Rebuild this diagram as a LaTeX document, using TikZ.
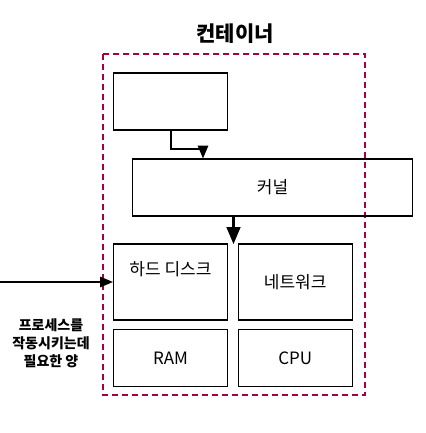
\documentclass[tikz,border=0pt]{standalone}
\usepackage{fontspec}
\setmainfont{Noto Sans CJK KR}
\usepackage{tikz}
\usetikzlibrary{arrows,positioning}
\definecolor{crimson}{RGB}{165,0,64}

\begin{document}
\begin{tikzpicture}[x=1pt,y=-1pt]

	\tikzstyle{box}=[rectangle,draw=black,line width=1.2pt,inner sep=0pt,minimum width=114pt,font=\fontsize{17}{20}\selectfont]
	\tikzstyle{container}=[draw=crimson,line width=2pt,dash pattern=on 6pt off 4pt]
	\tikzstyle{link}=[line width=2pt,-triangle 45]

	\useasboundingbox (0,0) rectangle (425,433);

	\draw [container] (103,54) rectangle (365,395);
	\node (title) at (235,34) [font=\bfseries\fontsize{21}{24}\selectfont] {컨테이너};

	\node [box] (app) [minimum height=57pt] at (170.5,101.5)		{};
	\node [box] (kernel) [minimum width=280pt,minimum height=57pt] at (272.5,187.5)	{커널};
	\node [box] (hdd) [minimum height=76pt] at (170.5,282)		{};
	\node [box] (net) [minimum height=76pt,right=9.5pt of hdd]	{네트워크};
	\node [box] (ram) [minimum height=57pt,below=8.5pt of hdd]	{RAM};
	\node [box] (cpu) [minimum height=57pt,right=9.5pt of ram]	{CPU};

	\node (hddlabel) at (170.5,269) [font=\fontsize{17}{20}\selectfont] {하드 디스크};
	\node (amount) at (51,343) [align=center,font=\bfseries\fontsize{14}{18}\selectfont] {프로세스를\\작동시키는데\\필요한 양};

	\coordinate (bend) at (203,149);
	\coordinate (gap) at (233.5,244);
	\coordinate (src) at (0,282);

	\draw [link] (app.south) |- (bend) -- (bend |- kernel.north);
	\draw [link,line width=3pt] (kernel.south -| gap) -- (gap);
	\draw [link] (src) -- (hdd.west);
\end{tikzpicture}
\end{document}
